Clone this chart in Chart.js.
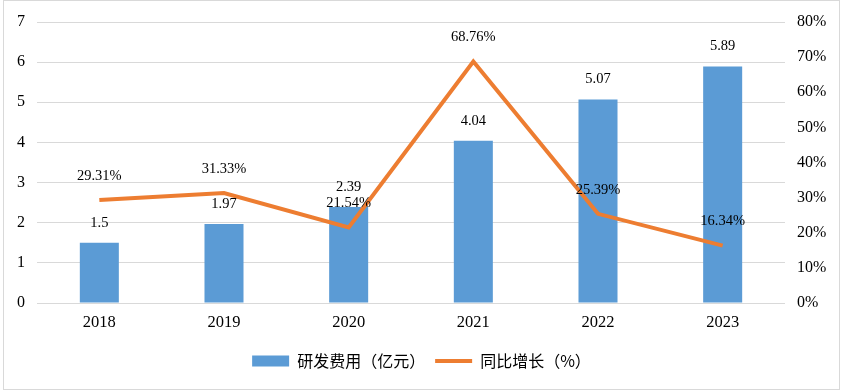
<!DOCTYPE html>
<html>
<head>
<meta charset="utf-8">
<script src="https://cdn.jsdelivr.net/npm/chart.js@4"></script>
<style>
  html, body { margin: 0; padding: 0; background: #fff; }
  #wrap { position: relative; width: 843px; height: 391px; }
  #frame { position: absolute; left: 3px; top: 0px; width: 835px; height: 388px; border: 1px solid #d9d9d9; pointer-events: none; }
</style>
</head>
<body>
<div id="wrap">
  <canvas id="chart" width="843" height="391"></canvas>
  <div id="frame"></div>
</div>
<script>
// data
const years = ['2018', '2019', '2020', '2021', '2022', '2023'];
const rdCost = [1.5, 1.97, 2.39, 4.04, 5.07, 5.89];
const growth = [29.31, 31.33, 21.54, 68.76, 25.39, 16.34];

const serif = "'Liberation Serif', 'Times New Roman', serif";

// simple value labels drawn from the element positions
const valueLabels = {
    id: 'valueLabels',
    afterDatasetsDraw(chart) {
        const ctx = chart.ctx;
        ctx.save();
        ctx.font = '14.5px ' + serif;
        ctx.fillStyle = '#000';
        ctx.textAlign = 'center';
        ctx.textBaseline = 'middle';
        chart.data.datasets.forEach((ds, i) => {
            const meta = chart.getDatasetMeta(i);
            meta.data.forEach((el, j) => {
                if (ds.type === 'bar') {
                    ctx.fillText(String(ds.data[j]), el.x, el.y - 20);
                } else {
                    ctx.fillText(ds.data[j].toFixed(2) + '%', el.x, el.y - 24);
                }
            });
        });
        ctx.restore();
    }
};

const ctx = document.getElementById('chart').getContext('2d');
const chart = new Chart(ctx, {
    data: {
        labels: years,
        datasets: [{
            type: 'bar',
            label: '研发费用（亿元）',
            data: rdCost,
            backgroundColor: '#5b9bd5',
            borderWidth: 0,
            barPercentage: 0.313,
            categoryPercentage: 1,
            pointStyle: 'rect',
            yAxisID: 'y',
            order: 1
        }, {
            type: 'line',
            label: '同比增长（%）',
            data: growth,
            borderColor: '#ed7d31',
            backgroundColor: '#ed7d31',
            borderWidth: 4,
            pointRadius: 0,
            pointStyle: 'line',
            tension: 0,
            yAxisID: 'y1',
            order: 0
        }]
    },
    options: {
        responsive: false,
        animation: false,
        layout: { padding: { left: 0, right: 0, top: 22, bottom: 12 } },
        plugins: {
            tooltip: { enabled: false },
            legend: {
                position: 'bottom',
                labels: {
                    usePointStyle: true,
                    pointStyleWidth: 37,
                    boxHeight: 11,
                    padding: 10,
                    color: '#000',
                    font: { family: "'Noto Sans CJK SC', sans-serif", size: 16 },
                    sort: (a, b) => a.datasetIndex - b.datasetIndex
                }
            }
        },
        scales: {
            x: {
                grid: { display: false, drawTicks: false },
                border: { display: false },
                ticks: { color: '#000', padding: 10, font: { family: serif, size: 16.5 } },
                afterFit(scale) { scale.height = 40; }
            },
            y: {
                position: 'left',
                min: 0,
                max: 7,
                grid: { color: '#d9d9d9', lineWidth: 1, drawTicks: false },
                border: { display: false },
                ticks: { stepSize: 1, color: '#000', padding: 12, font: { family: serif, size: 16 } },
                afterFit(scale) { scale.width = 37; }
            },
            y1: {
                position: 'right',
                min: 0,
                max: 80,
                grid: { display: false, drawTicks: false },
                border: { display: false },
                ticks: {
                    stepSize: 10,
                    color: '#000',
                    padding: 12,
                    font: { family: serif, size: 16 },
                    callback: v => v + '%'
                },
                afterFit(scale) { scale.width = 58; }
            }
        }
    },
    plugins: [valueLabels]
});
</script>
</body>
</html>
